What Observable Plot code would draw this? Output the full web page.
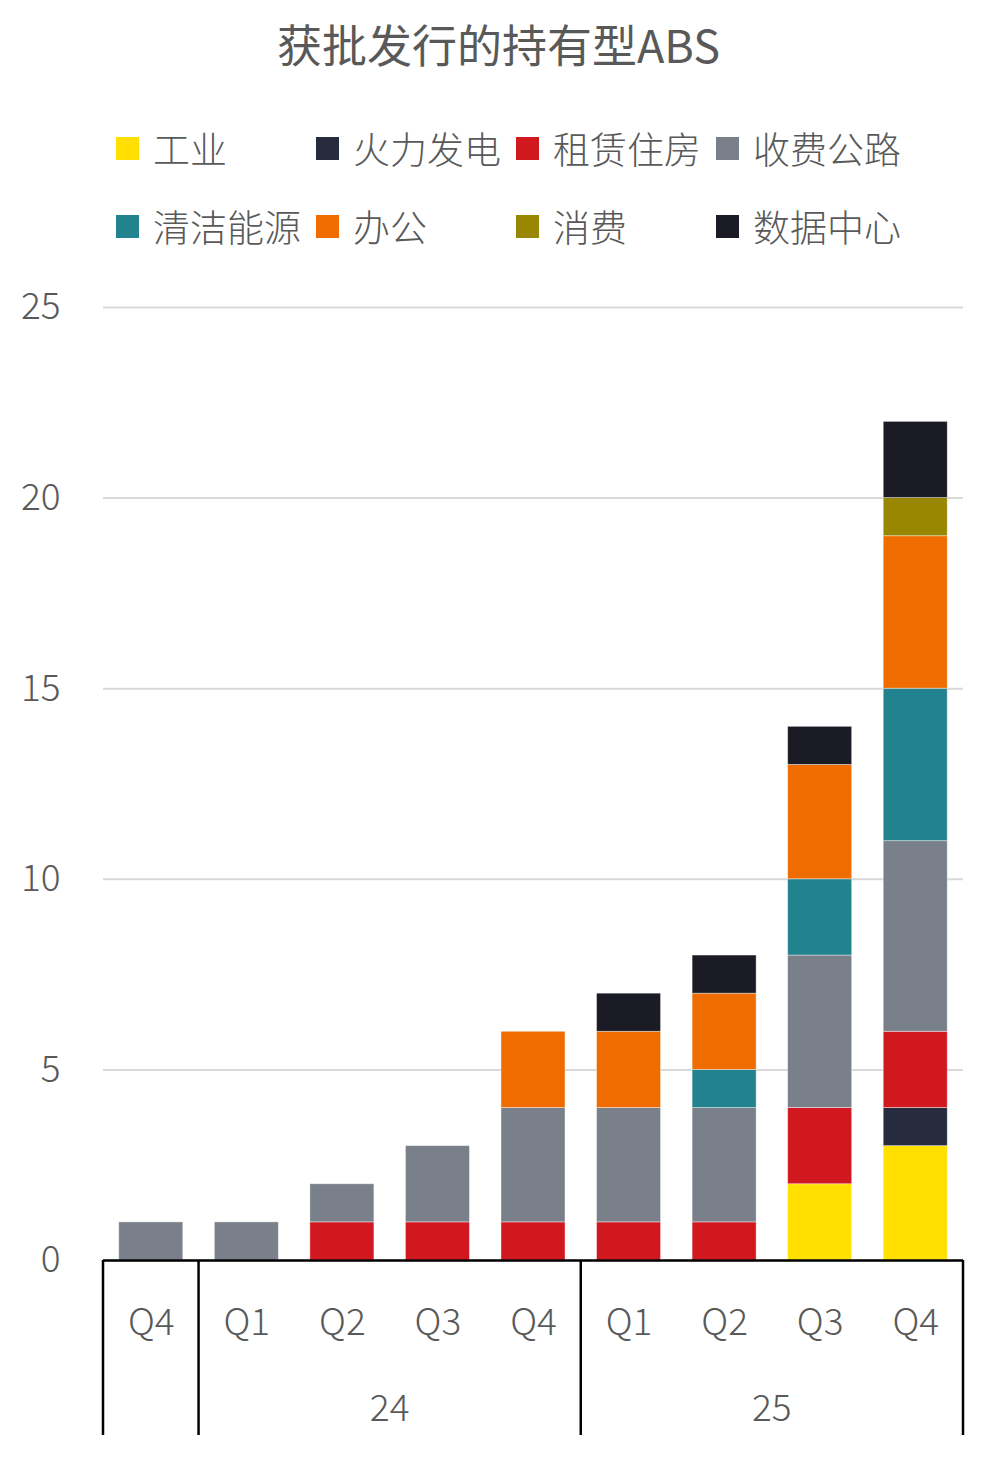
<!DOCTYPE html>
<html>
<head>
<meta charset="utf-8">
<script src="https://cdn.jsdelivr.net/npm/d3@7"></script>
<script src="https://cdn.jsdelivr.net/npm/@observablehq/plot@0.6"></script>
<style>
  body { margin: 0; background: #fff; }
  #head { position: relative; width: 997px; height: 260px; font-family: "Noto Sans CJK SC", sans-serif; color: #595959; }
  #title { position: absolute; left: 0; top: 16px; width: 997px; text-align: center; font-size: 45px; line-height: 56px; }
  .item { position: absolute; height: 48px; display: flex; align-items: center; font-size: 37px; font-weight: 300; white-space: nowrap; }
  .swatch { width: 23px; height: 23px; margin-right: 14px; flex: none; }
</style>
</head>
<body>
<div id="head">
  <div id="title">获批发行的持有型ABS</div>
</div>
<div id="chart"></div>
<script>
// Quarters on the x axis, grouped by year underneath
const periods = ["2023Q4", "2024Q1", "2024Q2", "2024Q3", "2024Q4", "2025Q1", "2025Q2", "2025Q3", "2025Q4"];
const quarterLabels = ["Q4", "Q1", "Q2", "Q3", "Q4", "Q1", "Q2", "Q3", "Q4"];
const groupLabels = ["", "24", "25"];
const groupSizes = [1, 4, 4];

// Asset types, stacked bottom to top
const categories = ["工业", "火力发电", "租赁住房", "收费公路", "清洁能源", "办公", "消费", "数据中心"];
const colors = ["#FFE000", "#262B3D", "#D1181F", "#7A808A", "#22838F", "#EE6C00", "#988700", "#1B1B25"];

// Number of approved issues per quarter for each asset type
const industrial = [0, 0, 0, 0, 0, 0, 0, 2, 3];
const thermalPower = [0, 0, 0, 0, 0, 0, 0, 0, 1];
const rentalHousing = [0, 0, 1, 1, 1, 1, 1, 2, 2];
const tollRoads = [1, 1, 1, 2, 3, 3, 3, 4, 5];
const cleanEnergy = [0, 0, 0, 0, 0, 0, 1, 2, 4];
const office = [0, 0, 0, 0, 2, 2, 2, 3, 4];
const consumer = [0, 0, 0, 0, 0, 0, 0, 0, 1];
const dataCenters = [0, 0, 0, 0, 0, 1, 1, 1, 2];

const yTicks = [0, 5, 10, 15, 20, 25];

const series = [industrial, thermalPower, rentalHousing, tollRoads, cleanEnergy, office, consumer, dataCenters];
const rows = [];
series.forEach((values, c) => {
  values.forEach((v, i) => {
    if (v > 0) rows.push({period: periods[i], category: categories[c], value: v});
  });
});

// Legend: four columns, two rows
const head = document.getElementById("head");
categories.forEach((name, i) => {
  const col = i % 4, row = Math.floor(i / 4);
  const item = document.createElement("div");
  item.className = "item";
  item.style.left = (116 + col * 200) + "px";
  item.style.top = (124 + row * 78) + "px";
  const sw = document.createElement("span");
  sw.className = "swatch";
  sw.style.background = colors[i];
  const label = document.createElement("span");
  label.textContent = name;
  item.append(sw, label);
  head.append(item);
});

// Boxed year grouping under the quarter labels
function yearGroups(index, scales) {
  const x = scales.x, y = scales.y;
  const bw = typeof x.bandwidth === "function" ? x.bandwidth() : x.bandwidth;
  const step = x(periods[1]) - x(periods[0]);
  const half = (step - bw) / 2;
  const y0 = y(0);
  const g = d3.create("svg:g");
  let start = 0;
  const edges = [];
  groupSizes.forEach((n, k) => {
    const left = x(periods[start]) - half;
    const right = x(periods[start + n - 1]) + bw + half;
    edges.push(left);
    if (k === groupSizes.length - 1) edges.push(right);
    g.append("text")
      .attr("x", (left + right) / 2)
      .attr("y", y0 + 148)
      .attr("dy", "0.36em")
      .attr("text-anchor", "middle")
      .attr("fill", "#595959")
      .attr("font-size", 37)
      .attr("font-weight", 300)
      .text(groupLabels[k]);
    start += n;
  });
  edges.forEach(ex => {
    g.append("line")
      .attr("x1", ex).attr("x2", ex)
      .attr("y1", y0).attr("y2", y0 + 175)
      .attr("stroke", "black")
      .attr("stroke-width", 2.5);
  });
  return g.node();
}

const chart = Plot.plot({
  width: 997,
  height: 1215,
  marginTop: 47,
  marginBottom: 215,
  marginLeft: 103,
  marginRight: 34,
  style: {fontFamily: "'Noto Sans CJK SC', sans-serif", fontSize: "37px", fontWeight: 300, color: "#595959", background: "white"},
  x: {domain: periods, paddingInner: 0.33, paddingOuter: 0.165, round: false, label: null},
  y: {domain: [0, 25], label: null},
  color: {domain: categories, range: colors},
  marks: [
    Plot.gridY(yTicks, {stroke: "#d9d9d9", strokeOpacity: 1, strokeWidth: 2}),
    Plot.axisY(yTicks, {tickSize: 0, tickPadding: 43, label: null, fontSize: 37}),
    Plot.barY(rows, {x: "period", y: "value", fill: "category", stroke: "white", strokeWidth: 0.8, strokeOpacity: 0.5}),
    Plot.ruleY([0], {stroke: "black", strokeWidth: 2.5}),
    Plot.axisX({tickSize: 0, tickPadding: 48, label: null, fontSize: 37, tickFormat: d => quarterLabels[periods.indexOf(d)]}),
    yearGroups
  ]
});
document.getElementById("chart").append(chart);
</script>
</body>
</html>
